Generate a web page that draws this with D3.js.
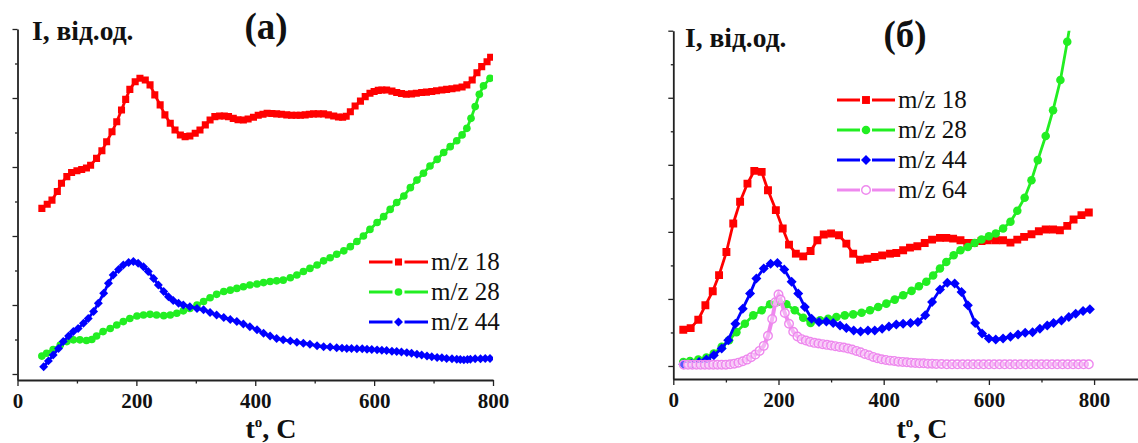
<!DOCTYPE html>
<html><head><meta charset="utf-8">
<script src="https://cdn.jsdelivr.net/npm/d3@7"></script>
<style>
body{margin:0;background:#fff}
svg{display:block}
</style>
</head><body>
<svg id="c" width="1138" height="443"></svg>
<script>
// ---------- DATA ----------
const xTickLabels = [0, 200, 400, 600, 800];
const xMinorTicks = [100, 300, 500, 700];
const yMajorTicks = [0, 2, 4, 6, 8, 10];
const yMinorTicks = [1, 3, 5, 7, 9];
const yAxisTitle = "I, від.од.";
const panelLabels = ["(а)", "(б)"];
const legendLabels = ["m/z 18", "m/z 28", "m/z 44", "m/z 64"];

// panel (a)
const a18T = [41,50,58,67,74,83,91,100,108,116,123,133,142,150,159,167,175,182,189,198,206,215,223,231,240,248,257,265,274,282,290,299,307,316,324,332,340,348,355,363,371,380,388,397,405,413,420,428,436,444,453,461,469,476,484,491,498,506,515,523,532,540,547,553,560,568,577,585,593,600,607,613,621,630,638,646,654,663,671,680,688,697,705,714,722,731,739,748,756,765,773,781,790,796];
const a18I = [4.80,4.92,5.04,5.29,5.53,5.72,5.84,5.89,5.93,5.97,6.05,6.25,6.47,6.73,7.02,7.31,7.65,7.96,8.25,8.47,8.57,8.52,8.38,8.09,7.80,7.51,7.27,7.07,6.93,6.88,6.90,6.98,7.07,7.22,7.36,7.46,7.48,7.48,7.46,7.41,7.37,7.36,7.39,7.44,7.50,7.53,7.56,7.55,7.54,7.53,7.51,7.50,7.50,7.50,7.51,7.53,7.54,7.54,7.54,7.51,7.48,7.45,7.44,7.47,7.60,7.77,7.91,8.04,8.14,8.19,8.22,8.23,8.23,8.20,8.16,8.13,8.11,8.12,8.14,8.16,8.17,8.19,8.21,8.23,8.25,8.27,8.29,8.32,8.38,8.52,8.73,8.91,9.05,9.18];
const a28T = [41,49,60,72,83,94,105,116,125,133,144,156,167,178,189,201,212,223,234,246,257,268,279,290,302,313,324,335,347,358,369,380,391,403,414,425,436,447,459,470,481,492,504,515,526,537,549,560,571,582,593,605,616,627,638,650,661,672,683,694,706,717,728,739,748,756,763,770,777,784,795];
const a28I = [0.52,0.60,0.71,0.84,0.94,0.99,0.99,0.97,1.00,1.10,1.23,1.32,1.42,1.52,1.61,1.68,1.71,1.73,1.71,1.69,1.71,1.76,1.83,1.90,2.00,2.10,2.21,2.31,2.39,2.43,2.48,2.53,2.58,2.61,2.65,2.68,2.70,2.72,2.79,2.87,2.97,3.06,3.16,3.28,3.37,3.47,3.57,3.69,3.84,4.00,4.19,4.39,4.56,4.77,4.97,5.16,5.40,5.62,5.82,6.03,6.22,6.42,6.59,6.76,6.93,7.12,7.41,7.75,8.11,8.35,8.57];
const a44T = [44,52,60,69,77,86,94,102,111,119,128,136,145,153,161,170,178,187,195,203,212,220,229,237,246,254,262,271,279,290,302,313,324,335,347,358,369,380,391,403,414,425,436,447,459,470,481,492,504,515,526,537,546,554,562,571,580,588,596,605,613,621,630,638,646,655,663,672,680,689,697,706,714,722,731,739,745,751,757,762,770,779,787,795];
const a44I = [0.21,0.38,0.55,0.74,0.94,1.10,1.23,1.32,1.47,1.61,1.81,2.05,2.34,2.63,2.87,3.03,3.16,3.23,3.26,3.21,3.11,2.97,2.77,2.58,2.39,2.24,2.13,2.05,2.00,1.95,1.90,1.86,1.78,1.71,1.64,1.58,1.52,1.45,1.37,1.28,1.18,1.10,1.03,0.99,0.96,0.92,0.89,0.86,0.82,0.79,0.78,0.76,0.75,0.74,0.74,0.73,0.73,0.72,0.71,0.70,0.69,0.68,0.66,0.65,0.64,0.62,0.60,0.57,0.55,0.52,0.50,0.48,0.47,0.45,0.44,0.43,0.42,0.41,0.42,0.43,0.44,0.44,0.45,0.45];

// panel (б)
const b18T = [19,33,47.5,61,75,87,101,114,127,141,154,168,180,195,208,220,233,247,261,274,286,300,315,329,342,355,369,383,397,412,424,437,450,464,478,492,507,519,532,546,559,571,586,598,613,627,641,654,667,681,695,708,722,735,749,761,776,790];
const b18I = [1.08,1.13,1.38,1.81,2.23,2.71,3.40,4.25,4.90,5.44,5.82,5.79,5.24,4.65,4.10,3.62,3.35,3.27,3.43,3.75,3.92,3.95,3.90,3.65,3.35,3.17,3.20,3.25,3.30,3.35,3.37,3.45,3.53,3.57,3.67,3.77,3.82,3.82,3.80,3.75,3.67,3.67,3.73,3.75,3.75,3.75,3.68,3.77,3.85,3.93,4.02,4.07,4.07,4.05,4.18,4.37,4.50,4.58];
const b28T = [19,31.7,47.5,63,77,92,106,120,136,152,168,184,198,215,231,247,261,279,294.5,310,326,342,358,374,389.5,405,421,437,453,467,481,494,507,519,533,546,560,573,586,600,613,627,641,654,668,681,693,708,722,736,749,753];
const b28I = [0.12,0.15,0.19,0.25,0.37,0.57,0.77,1.01,1.26,1.51,1.66,1.84,1.91,1.84,1.66,1.44,1.28,1.36,1.41,1.46,1.51,1.54,1.59,1.66,1.76,1.86,1.98,2.11,2.24,2.38,2.51,2.70,2.91,3.10,3.30,3.45,3.55,3.67,3.77,3.87,3.95,4.10,4.30,4.63,5.02,5.54,6.14,6.86,7.63,8.53,9.67,10.05];
const b44T = [19,35,49,63,77,92,104.5,118,132,146,158,172,185,198,211,225,237.5,250,263,277,291,304,317,329,343,356,370,383,397,410,424,437,451,465,479,492,507,521,535,548,560,574,587,600,613,627,641,655.5,669,683,697,711,723,738,752,765,779,792];
const b44I = [0.05,0.07,0.12,0.19,0.32,0.52,0.77,1.26,1.71,2.16,2.61,2.91,3.05,3.07,2.88,2.51,2.16,1.76,1.41,1.31,1.33,1.28,1.21,1.13,1.06,1.03,1.06,1.06,1.11,1.18,1.24,1.26,1.28,1.31,1.51,1.91,2.28,2.48,2.46,2.21,1.81,1.28,0.97,0.82,0.79,0.82,0.87,0.94,0.99,1.01,1.11,1.21,1.28,1.36,1.46,1.56,1.64,1.69];
const b64T = [20,28,36,44,52,60,68,76,84,92,100,108,116,124,132,140,148,156,164,172,180,188,194,200,204,212,220,228,236,244,252,260,268,276,284,292,300,308,316,324,332,340,348,356,364,372,380,388,396,404,412,420,428,436,444,452,460,468,476,484,492,500,510,520,530,540,550,560,570,580,590,600,610,620,630,640,650,660,670,680,690,700,710,720,730,740,750,760,770,780,790];
const b64I = [0.04,0.04,0.04,0.04,0.04,0.04,0.04,0.04,0.04,0.04,0.04,0.05,0.07,0.10,0.14,0.19,0.26,0.34,0.45,0.60,0.90,1.40,1.90,2.13,1.98,1.58,1.26,1.02,0.88,0.80,0.76,0.72,0.69,0.67,0.65,0.63,0.61,0.59,0.57,0.55,0.52,0.49,0.45,0.41,0.36,0.32,0.27,0.23,0.20,0.18,0.16,0.15,0.13,0.12,0.11,0.10,0.09,0.08,0.08,0.07,0.07,0.06,0.06,0.05,0.05,0.05,0.05,0.05,0.05,0.05,0.05,0.05,0.05,0.05,0.05,0.05,0.05,0.05,0.05,0.05,0.05,0.05,0.05,0.05,0.05,0.05,0.05,0.05,0.05,0.05,0.05];

// ---------- DRAWING ----------
const svg = d3.select("#c");
const SERIF = "'Liberation Serif','Times New Roman',serif";
const RED = "#ff0000", GREEN = "#22ee22", BLUE = "#0000ff", PINK = "#ee88ee";

function makeShapes(k) {
  return {
    square: d3.symbol(d3.symbolSquare, 50 * k)(),
    circle: d3.symbol(d3.symbolCircle, 46 * k)(),
    diamond: d3.symbol(d3.symbolSquare, 40 * k)(),
    open: d3.symbol(d3.symbolCircle, 58)()
  };
}

function marker(sel, s, shapes) {
  const open = s.shape === "open";
  sel.attr("d", shapes[s.shape])
     .attr("fill", open ? "#fff" : s.color)
     .attr("fill-opacity", open ? 0.35 : 1)
     .attr("stroke", open ? s.color : "none")
     .attr("stroke-width", open ? 1.4 : 0);
}

function drawPanel(p, idx) {
  const x = d3.scaleLinear().domain(p.xDomain).range(p.xRange);
  const y = d3.scaleLinear().domain(p.yDomain).range(p.yRange);
  const g = svg.append("g");
  const shapes = makeShapes(p.markerScale);

  const clipId = "clip" + idx;
  svg.append("clipPath").attr("id", clipId).append("rect")
    .attr("x", p.xRange[0]).attr("y", p.yRange[1])
    .attr("width", p.xRange[1] - p.xRange[0])
    .attr("height", p.yRange[0] - p.yRange[1]);
  const plot = g.append("g").attr("clip-path", `url(#${clipId})`);

  p.series.forEach(s => {
    const data = d3.zip(s.t, s.v);
    plot.append("path").datum(data)
      .attr("d", d3.line().x(d => x(d[0])).y(d => y(d[1])))
      .attr("fill", "none").attr("stroke", s.color)
      .attr("stroke-width", s.shape === "open" ? 4 : 2.8);
    plot.append("g").selectAll("path")
      .data(data.filter(d => d[1] <= p.yDomain[1]))
      .join("path")
      .attr("transform", d => `translate(${x(d[0])},${y(d[1])})` + (s.shape === "diamond" ? " rotate(45)" : ""))
      .call(marker, s, shapes);
  });

  // axes
  const axisStyle = a => {
    a.selectAll(".domain").attr("stroke", "#222").attr("stroke-width", 1.8);
    a.selectAll(".tick line").attr("stroke", "#222").attr("stroke-width", 1.3);
  };
  const xa = g.append("g").attr("transform", `translate(0,${p.yRange[0]})`)
    .call(d3.axisBottom(x).tickValues(xTickLabels).tickSize(6).tickSizeOuter(0).tickPadding(7).tickFormat(d3.format("d")));
  xa.call(axisStyle);
  xa.selectAll("text").attr("font-family", SERIF).attr("font-weight", "bold").attr("font-size", 21).attr("fill", "#111");
  g.append("g").attr("transform", `translate(0,${p.yRange[0]})`)
    .call(d3.axisBottom(x).tickValues(xMinorTicks).tickSize(3.5).tickFormat(""))
    .call(a => a.select(".domain").remove()).call(axisStyle);

  const ya = g.append("g").attr("transform", `translate(${p.xRange[0]},0)`)
    .call(d3.axisLeft(y).tickValues(yMajorTicks).tickSize(5).tickSizeOuter(0).tickFormat(""));
  ya.call(axisStyle);
  g.append("g").attr("transform", `translate(${p.xRange[0]},0)`)
    .call(d3.axisLeft(y).tickValues(yMinorTicks).tickSize(2.5).tickFormat(""))
    .call(a => a.select(".domain").remove()).call(axisStyle);

  // texts
  g.append("text").attr("x", p.yTitle[0]).attr("y", p.yTitle[1])
    .attr("font-family", SERIF).attr("font-weight", "bold").attr("font-size", 27.5)
    .attr("fill", "#111").text(yAxisTitle);
  g.append("text").attr("x", p.label[0]).attr("y", p.label[1]).attr("text-anchor", "middle")
    .attr("font-family", SERIF).attr("font-weight", "bold").attr("font-size", 37)
    .attr("fill", "#111").text(panelLabels[idx]);
  const xt = g.append("text").attr("x", p.xTitle[0]).attr("y", p.xTitle[1]).attr("text-anchor", "middle")
    .attr("font-family", SERIF).attr("font-weight", "bold").attr("font-size", 28).attr("fill", "#111");
  xt.append("tspan").text("t");
  xt.append("tspan").attr("font-size", 15).attr("dy", -11).text("o");
  xt.append("tspan").attr("dy", 11).text(", C");

  // legend
  p.series.forEach((s, i) => {
    const ly = p.legend.y0 + i * p.legend.dy;
    const lx0 = p.legend.x0, lx1 = p.legend.x1, mx = (lx0 + lx1) / 2;
    const lg = g.append("g");
    lg.append("line").attr("x1", lx0).attr("x2", mx - 6).attr("y1", ly).attr("y2", ly)
      .attr("stroke", s.color).attr("stroke-width", 3);
    lg.append("line").attr("x1", mx + 6).attr("x2", lx1).attr("y1", ly).attr("y2", ly)
      .attr("stroke", s.color).attr("stroke-width", 3);
    lg.append("path").attr("transform", `translate(${mx},${ly})` + (s.shape === "diamond" ? " rotate(45)" : ""))
      .call(marker, s, shapes).attr("fill", s.shape === "open" ? "#fff" : s.color).attr("fill-opacity", 1);
    lg.append("text").attr("x", lx1 + 3).attr("y", ly + 8)
      .attr("font-family", SERIF).attr("font-size", 25).attr("fill", "#111")
      .text(legendLabels[i]);
  });
}

const panels = [
  {
    xDomain: [0, 800], xRange: [17.5, 493],
    yDomain: [-0.174, 10], yRange: [380, 29],
    yTitle: [32, 39.5], label: [266, 39], xTitle: [271, 438],
    legend: { x0: 369, x1: 428, y0: 262, dy: 30 },
    markerScale: 1,
    series: [
      { t: a18T, v: a18I, color: RED, shape: "square" },
      { t: a28T, v: a28I, color: GREEN, shape: "circle" },
      { t: a44T, v: a44I, color: BLUE, shape: "diamond" }
    ]
  },
  {
    xDomain: [0, 883.5], xRange: [673.3, 1138],
    yDomain: [-0.388, 10], yRange: [379, 30.7],
    yTitle: [685, 46.5], label: [905, 47], xTitle: [922, 438],
    legend: { x0: 837, x1: 895, y0: 100, dy: 30 },
    markerScale: 1.25,
    series: [
      { t: b18T, v: b18I, color: RED, shape: "square" },
      { t: b28T, v: b28I, color: GREEN, shape: "circle" },
      { t: b44T, v: b44I, color: BLUE, shape: "diamond" },
      { t: b64T, v: b64I, color: PINK, shape: "open" }
    ]
  }
];
panels.forEach(drawPanel);
</script>
</body></html>
